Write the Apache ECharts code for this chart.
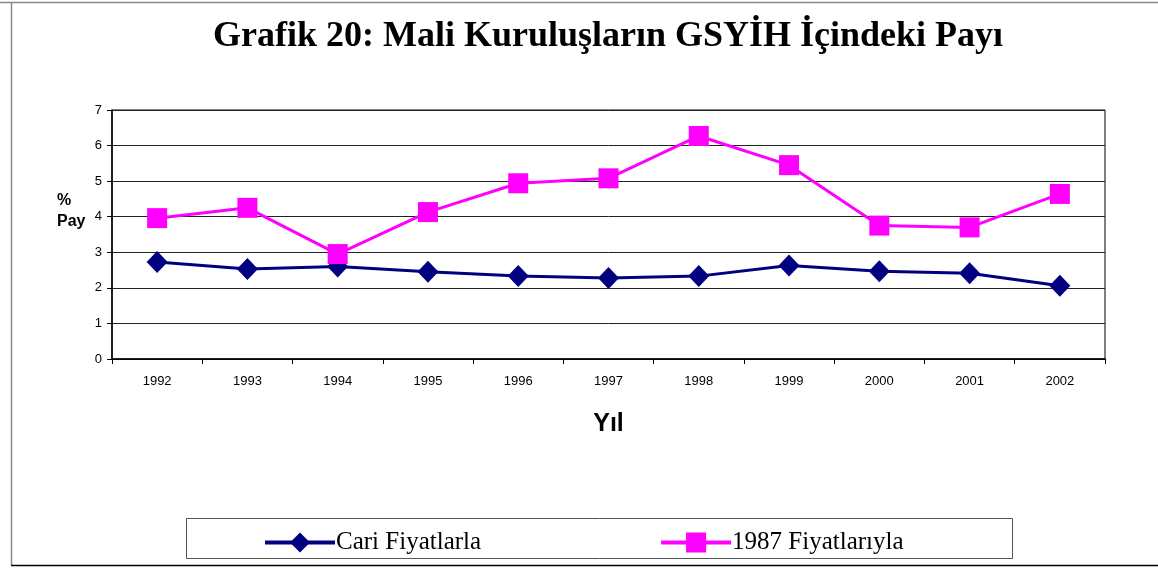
<!DOCTYPE html>
<html>
<head>
<meta charset="utf-8">
<script src="https://cdn.jsdelivr.net/npm/echarts@6/dist/echarts.min.js"></script>
<style>
  html, body { margin: 0; padding: 0; background: #fff; }
  #chart { width: 1158px; height: 568px; }
</style>
</head>
<body>
<div id="chart"></div>
<script>
// yıllar ve iki seri
const years = ['1992', '1993', '1994', '1995', '1996', '1997', '1998', '1999', '2000', '2001', '2002']
const cariFiyat = [2.73, 2.53, 2.60, 2.45, 2.33, 2.28, 2.33, 2.63, 2.47, 2.41, 2.06]
const sabitFiyat = [3.96, 4.25, 2.95, 4.13, 4.94, 5.08, 6.27, 5.45, 3.75, 3.70, 4.64]
const seriesNames = ['Cari Fiyatlarla', '1987 Fiyatlarıyla']

const chart = echarts.init(document.getElementById('chart'))

const option = {
  backgroundColor: '#fff',
  animation: false,
  title: {
    text: 'Grafik 20: Mali Kuruluşların GSYİH İçindeki Payı',
    left: 208,
    top: 14,
    textStyle: {
      fontFamily: 'Liberation Serif',
      fontWeight: 'bold',
      fontSize: 36,
      color: '#000'
    }
  },
  legend: {
    data: seriesNames,
    left: 258,
    top: 525,
    itemWidth: 70,
    itemHeight: 25,
    itemGap: 178,
    lineStyle: { width: 4 },
    textStyle: {
      fontFamily: 'Liberation Serif',
      fontSize: 25,
      color: '#000',
      padding: [0, 0, 0, -4]
    }
  },
  grid: {
    left: 112,
    right: 53,
    top: 110,
    bottom: 209,
    show: true,
    borderColor: '#000',
    borderWidth: 1
  },
  xAxis: {
    type: 'category',
    data: years,
    boundaryGap: true,
    name: 'Yıl',
    nameLocation: 'middle',
    nameGap: 53,
    nameTextStyle: {
      fontFamily: 'Liberation Sans',
      fontWeight: 'bold',
      fontSize: 25,
      color: '#000'
    },
    axisLine: { lineStyle: { color: '#000', width: 1.5 } },
    axisTick: { show: true, length: 5, inside: false, lineStyle: { color: '#000' } },
    axisLabel: {
      margin: 16,
      fontFamily: 'Liberation Sans',
      fontSize: 13,
      color: '#000'
    }
  },
  yAxis: {
    type: 'value',
    min: 0,
    max: 7,
    interval: 1,
    axisLine: { show: true, lineStyle: { color: '#000', width: 1.5 } },
    axisTick: { show: true, length: 5, lineStyle: { color: '#000' } },
    axisLabel: {
      margin: 10,
      fontFamily: 'Liberation Sans',
      fontSize: 13,
      color: '#000'
    },
    splitLine: { show: true, lineStyle: { color: '#222', width: 1 } }
  },
  graphic: [
    // dış çerçeve
    { type: 'line', shape: { x1: 0, y1: 2.5, x2: 1158, y2: 2.5 }, style: { stroke: '#888', lineWidth: 1.5 } },
    { type: 'line', shape: { x1: 11.5, y1: 2, x2: 11.5, y2: 565 }, style: { stroke: '#888', lineWidth: 1.5 } },
    { type: 'line', shape: { x1: 11, y1: 565.5, x2: 1158, y2: 565.5 }, style: { stroke: '#000', lineWidth: 1.5 } },
    // lejant kutusu
    { type: 'rect', shape: { x: 186.5, y: 518.5, width: 826, height: 40 }, style: { fill: 'none', stroke: '#555', lineWidth: 1 }, z: -1 },
    // y ekseni adı
    {
      type: 'text',
      left: 57,
      top: 190,
      style: {
        text: '%\nPay',
        fontFamily: 'Liberation Sans',
        fontWeight: 'bold',
        fontSize: 16,
        lineHeight: 21,
        fill: '#000'
      }
    }
  ],
  series: [
    {
      name: seriesNames[0],
      type: 'line',
      data: cariFiyat,
      symbol: 'diamond',
      symbolSize: [21, 22],
      lineStyle: { color: '#000080', width: 3 },
      itemStyle: { color: '#000080' }
    },
    {
      name: seriesNames[1],
      type: 'line',
      data: sabitFiyat,
      symbol: 'rect',
      symbolSize: 20,
      lineStyle: { color: '#ff00ff', width: 3 },
      itemStyle: { color: '#ff00ff' }
    }
  ]
}

chart.setOption(option)
</script>
</body>
</html>
